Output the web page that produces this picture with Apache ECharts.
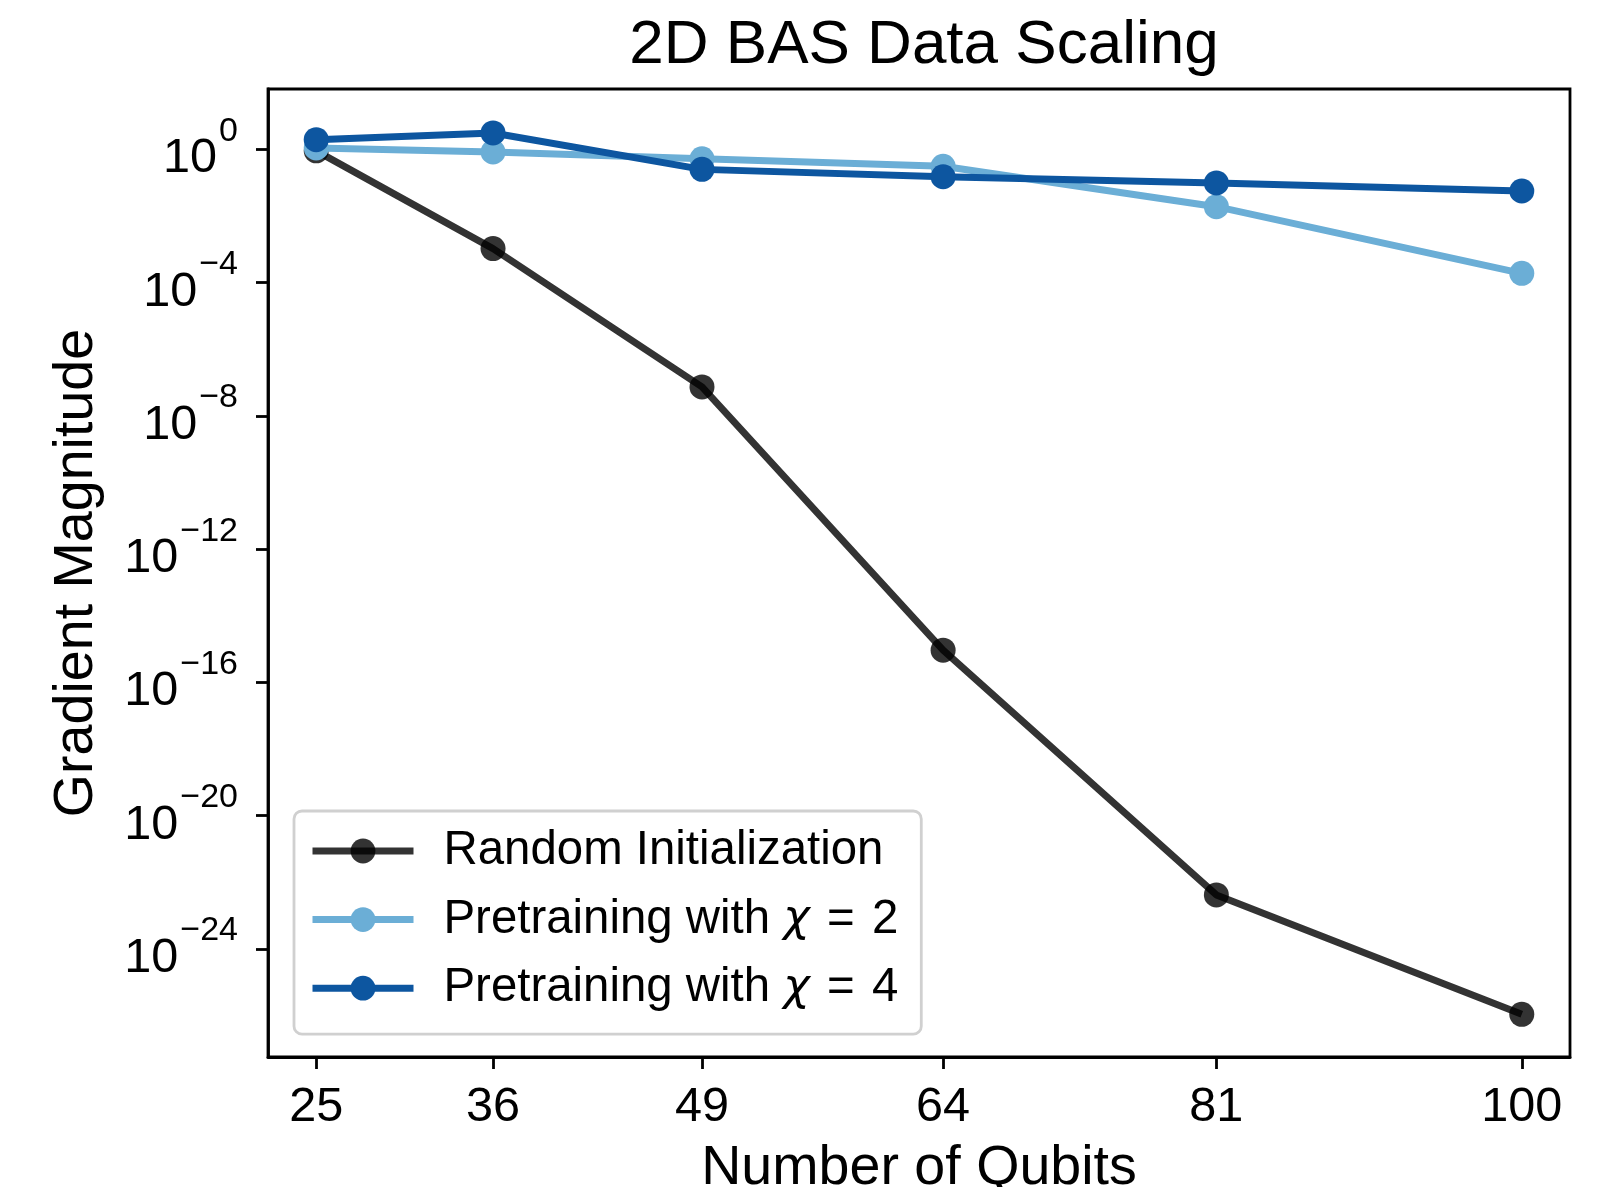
<!DOCTYPE html>
<html>
<head>
<meta charset="utf-8">
<script src="https://cdn.jsdelivr.net/npm/echarts@6/dist/echarts.min.js"></script>
<style>
  html, body { margin: 0; padding: 0; background: #fff; }
  #chart { width: 1604px; height: 1187px; }
</style>
</head>
<body>
<div id="chart"></div>
<script>
// number of qubits
var qubits = [25, 36, 49, 64, 81, 100];
// gradient magnitudes
var randomInit = [0.9, 1.05e-3, 7.4e-8, 9.3e-16, 4.2e-23, 1.1e-26];
var chi2 = [1.1, 0.83, 0.52, 0.31, 0.019, 1.9e-4];
var chi4 = [1.95, 3.1, 0.25, 0.15, 0.098, 0.056];
// tick exponents on the y axis
var yTickExp = [0, -4, -8, -12, -16, -20, -24];

var FONT = 'Liberation Sans, Arial, sans-serif';

function toPoints(vals) {
    var pts = [];
    for (var i = 0; i < qubits.length; i++) {
        pts.push([qubits[i], Math.log10(vals[i])]);
    }
    return pts;
}

function lineSeries(name, vals, color, z) {
    return {
        name: name,
        type: 'line',
        data: toPoints(vals),
        z: z,
        symbol: 'circle',
        symbolSize: 25,
        showSymbol: true,
        lineStyle: { color: color, width: 7 },
        itemStyle: { color: color },
        emphasis: { disabled: true },
        animation: false
    };
}

var chart = echarts.init(document.getElementById('chart'));

var option = {
    backgroundColor: '#fff',
    title: {
        text: '2D BAS Data Scaling',
        left: 919,
        textAlign: 'center',
        top: 10,
        textStyle: { fontFamily: FONT, fontSize: 62, fontWeight: 'normal', color: '#000' }
    },
    grid: {
        left: 268, right: 34, top: 89, bottom: 130,
        outerBoundsMode: 'none',
        show: true, borderColor: '#000', borderWidth: 2.8, backgroundColor: 'transparent'
    },
    legend: {
        orient: 'vertical',
        left: 294, top: 811,
        padding: [15, 23, 21, 15],
        itemWidth: 101, itemHeight: 31, itemGap: 18.6,
        backgroundColor: 'rgba(255,255,255,0.8)',
        borderColor: '#d0d0d0', borderWidth: 2.8, borderRadius: 8,
        lineStyle: { width: 7 },
        selectedMode: false,
        textStyle: {
            fontFamily: FONT, fontSize: 47.4, lineHeight: 50, color: '#000',
            padding: [0, 0, 0, 25],
            rich: {
                i: { fontFamily: 'DejaVu Sans, sans-serif', fontStyle: 'italic', fontSize: 45, lineHeight: 50 },
                e: { fontFamily: FONT, fontSize: 47.4, lineHeight: 50, padding: [0, 4, 0, 4] }
            }
        },
        formatter: function (name) {
            return name.replace('χ = ', '{i|χ}{e| = }');
        },
        data: ['Random Initialization', 'Pretraining with χ = 2', 'Pretraining with χ = 4']
    },
    xAxis: {
        type: 'value',
        min: 22, max: 103,
        name: 'Number of Qubits',
        nameLocation: 'middle',
        nameGap: 84,
        nameTextStyle: { fontFamily: FONT, fontSize: 55.6, color: '#000' },
        axisLine: { show: true, onZero: false, lineStyle: { color: '#000', width: 2.8 } },
        axisTick: { show: true, length: 12, lineStyle: { color: '#000', width: 2.8 }, customValues: qubits },
        axisLabel: {
            fontFamily: FONT, fontSize: 48.6, color: '#000', margin: 26,
            customValues: qubits
        },
        splitLine: { show: false }
    },
    yAxis: {
        type: 'value',
        min: -27.24, max: 1.81,
        name: 'Gradient Magnitude',
        nameLocation: 'middle',
        nameGap: 163,
        nameTextStyle: { fontFamily: FONT, fontSize: 55.6, color: '#000' },
        axisLine: { show: true, onZero: false, lineStyle: { color: '#000', width: 2.8 } },
        axisTick: { show: true, length: 12, lineStyle: { color: '#000', width: 2.8 }, customValues: yTickExp },
        axisLabel: {
            margin: 30, color: '#000',
            customValues: yTickExp,
            // superscript on a first short line, "10" below it padded by an invisible copy
            formatter: function (v) {
                var e = Math.round(v);
                var sup = e < 0 ? '\u2212' + (-e) : String(e);
                return '{s|' + sup + '}\n{b|10}{g|' + sup + '}';
            },
            rich: {
                s: { fontFamily: FONT, fontSize: 34, lineHeight: 19, color: '#000' },
                b: { fontFamily: FONT, fontSize: 48.6, lineHeight: 36, color: '#000', padding: [0, 2, 0, 0] },
                g: { fontFamily: FONT, fontSize: 34, lineHeight: 36, color: 'rgba(0,0,0,0)' }
            }
        },
        splitLine: { show: false }
    },
    series: [
        lineSeries('Random Initialization', randomInit, 'rgba(0,0,0,0.8)', 2),
        lineSeries('Pretraining with χ = 2', chi2, '#6baed6', 3),
        lineSeries('Pretraining with χ = 4', chi4, '#0d56a0', 4)
    ]
};

chart.setOption(option);
</script>
</body>
</html>
